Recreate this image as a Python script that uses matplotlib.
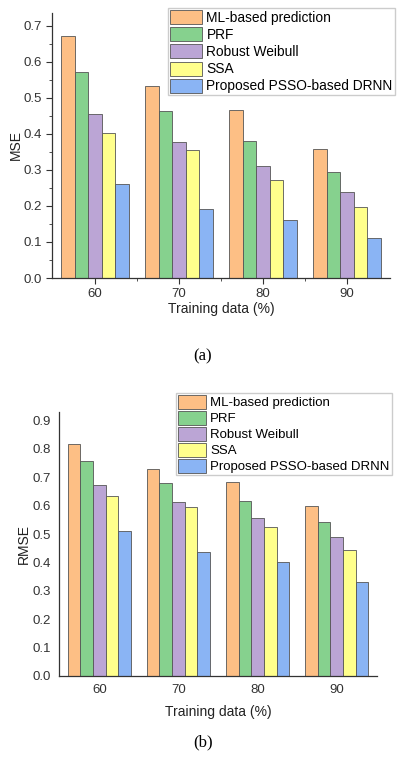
import matplotlib

matplotlib.use("Agg")
import matplotlib.pyplot as plt
import numpy as np
from matplotlib.ticker import MultipleLocator, FixedLocator

plt.rcParams["font.family"] = ["Liberation Sans", "DejaVu Sans"]

groups = ["60", "70", "80", "90"]
methods = ["ML-based prediction", "PRF", "Robust Weibull", "SSA", "Proposed PSSO-based DRNN"]
colors = ["#fdbf85", "#86d18e", "#bba5d5", "#ffff8c", "#8ab4f4"]

mse = {
    "ML-based prediction": [0.672, 0.532, 0.467, 0.358],
    "PRF": [0.571, 0.463, 0.380, 0.295],
    "Robust Weibull": [0.454, 0.376, 0.310, 0.238],
    "SSA": [0.402, 0.354, 0.273, 0.197],
    "Proposed PSSO-based DRNN": [0.260, 0.190, 0.161, 0.110],
}
rmse = {
    "ML-based prediction": [0.819, 0.729, 0.684, 0.598],
    "PRF": [0.756, 0.681, 0.615, 0.543],
    "Robust Weibull": [0.674, 0.612, 0.557, 0.488],
    "SSA": [0.635, 0.594, 0.525, 0.445],
    "Proposed PSSO-based DRNN": [0.512, 0.438, 0.401, 0.331],
}

W, H = 397, 765
fig = plt.figure(figsize=(W / 100, H / 100), dpi=100)


def px_axes(left, right, top, bottom):
    return fig.add_axes([left / W, 1 - bottom / H, (right - left) / W, (bottom - top) / H])


def draw(ax, data, ylabel, ytop, ticks_on, ypad, xpad):
    x = np.arange(len(groups))
    width = 0.16
    for i, m in enumerate(methods):
        ax.bar(x + (i - 2) * width, data[m], width, color=colors[i],
               edgecolor="#555555", linewidth=0.6, label=m)
    ax.set_xlim(-0.51, 3.51)
    ax.set_ylim(0, ytop)
    ax.set_xticks(x)
    ax.set_xticklabels(groups)
    ax.yaxis.set_major_locator(MultipleLocator(0.1))
    ax.yaxis.set_major_formatter(plt.FuncFormatter(lambda v, p: f"{v:.1f}"))
    for s in ["top", "right"]:
        ax.spines[s].set_visible(False)
    for s in ["left", "bottom"]:
        ax.spines[s].set_color("#333333")
        ax.spines[s].set_linewidth(0.9)
    ax.set_ylabel(ylabel, fontsize=10, color="#222222", labelpad=ypad)
    ax.set_xlabel("Training data (%)", fontsize=10, color="#222222", labelpad=xpad)
    if ticks_on:
        ax.tick_params(axis="both", which="major", length=4, width=0.8, colors="#333333",
                       labelsize=9.5, labelcolor="#333333")
        ax.yaxis.set_minor_locator(MultipleLocator(0.05))
        ax.xaxis.set_minor_locator(FixedLocator([0.5, 1.5, 2.5]))
        ax.tick_params(axis="both", which="minor", length=2.5, width=0.6, colors="#333333")
    else:
        ax.tick_params(axis="both", which="major", length=0, labelsize=9.5,
                       labelcolor="#333333", pad=6)


ax1 = px_axes(52, 390, 13, 278)
draw(ax1, mse, "MSE", 0.735, True, 0, 1)
ax1.legend(loc="upper left", bbox_to_anchor=(168 / W, 1 - 8 / H), bbox_transform=fig.transFigure,
           fontsize=9.9, frameon=True, fancybox=False, edgecolor="#cccccc", framealpha=1,
           handlelength=2.3, handleheight=1.2, handletextpad=0.35, labelspacing=0.18,
           borderpad=0.15, borderaxespad=0)

ax2 = px_axes(59, 377, 412, 676)
draw(ax2, rmse, "RMSE", 0.93, False, 1, 6)
ax2.legend(loc="upper left", bbox_to_anchor=(176 / W, 1 - 393 / H), bbox_transform=fig.transFigure,
           fontsize=9.5, frameon=True, fancybox=False, edgecolor="#cccccc", framealpha=1,
           handlelength=2.1, handleheight=1.2, handletextpad=0.35, labelspacing=0.14,
           borderpad=0.15, borderaxespad=0)

fig.text(203 / W, 1 - 356 / H, "(a)", ha="center", va="center", fontsize=12,
         family=["Liberation Serif", "DejaVu Serif"])
fig.text(203 / W, 1 - 742 / H, "(b)", ha="center", va="center", fontsize=12,
         family=["Liberation Serif", "DejaVu Serif"])

fig.savefig("out.png", dpi=100)
